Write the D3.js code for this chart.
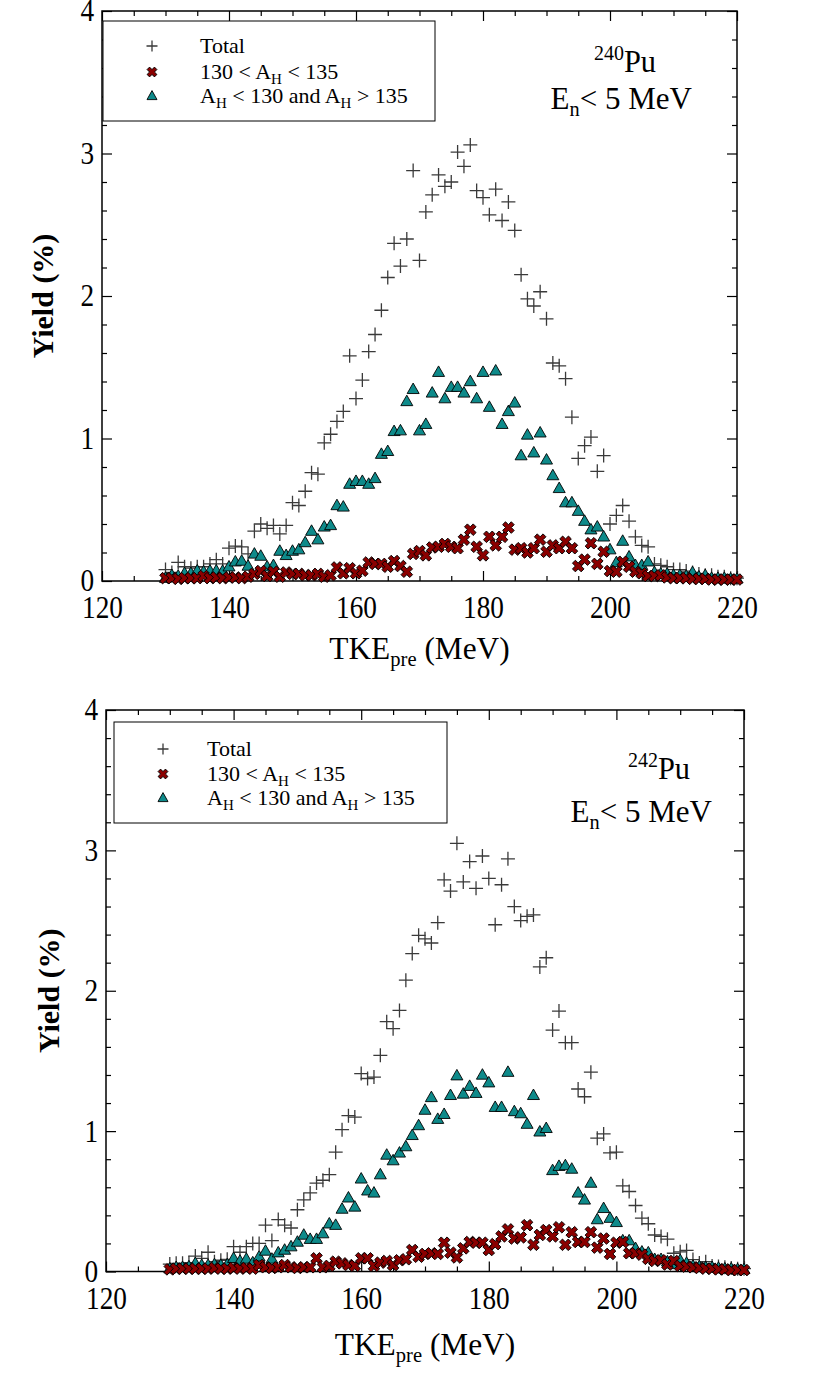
<!DOCTYPE html>
<html><head><meta charset="utf-8">
<script src="https://cdn.jsdelivr.net/npm/d3@7"></script>
<style>
body{margin:0;background:#fff}
text{font-family:"Liberation Serif","Times New Roman",serif;fill:#000}
</style>
</head><body>
<svg id="c" width="830" height="1397"></svg>
<script>
// ---------- DATA ----------
const energies = [130,131,132,133,134,135,136,137,138,139,140,141,142,143,144,145,146,147,148,149,
150,151,152,153,154,155,156,157,158,159,160,161,162,163,164,165,166,167,168,169,
170,171,172,173,174,175,176,177,178,179,180,181,182,183,184,185,186,187,188,189,
190,191,192,193,194,195,196,197,198,199,200,201,202,203,204,205,206,207,208,209,
210,211,212,213,214,215,216,217,218,219,220];

const pu240Total = [0.08,0.06,0.13,0.10,0.09,0.10,0.10,0.12,0.15,0.12,0.23,0.245,0.24,0.19,0.35,0.40,0.37,0.39,0.33,0.39,
0.55,0.53,0.63,0.76,0.75,0.97,1.03,1.12,1.19,1.58,1.28,1.41,1.61,1.73,1.90,2.13,2.37,2.21,2.40,2.88,
2.25,2.59,2.71,2.85,2.77,2.80,3.01,2.91,3.06,2.74,2.69,2.57,2.75,2.53,2.66,2.46,2.15,1.98,1.93,2.03,
1.84,1.53,1.51,1.42,1.15,0.86,0.95,1.01,0.77,0.88,0.40,0.46,0.53,0.42,0.31,0.25,0.24,0.12,0.11,0.10,
0.08,0.08,0.07,0.06,0.05,0.04,0.04,0.03,0.03,0.02,0.02];

const pu240Sym = [0.02,0.02,0.015,0.02,0.02,0.02,0.035,0.02,0.025,0.02,0.025,0.025,0.02,0.03,0.05,0.07,0.035,0.065,0.03,0.06,
0.05,0.05,0.04,0.04,0.05,0.03,0.04,0.095,0.054,0.09,0.054,0.072,0.13,0.12,0.12,0.10,0.14,0.105,0.065,0.19,
0.21,0.18,0.235,0.24,0.26,0.24,0.23,0.29,0.36,0.24,0.18,0.31,0.25,0.31,0.375,0.22,0.23,0.20,0.23,0.29,
0.205,0.25,0.23,0.275,0.23,0.105,0.15,0.265,0.12,0.205,0.07,0.065,0.135,0.10,0.065,0.054,0.035,0.035,0.04,0.025,
0.02,0.02,0.02,0.015,0.015,0.015,0.01,0.01,0.01,0.01,0.01];

const pu240Asym = [0.02,0.04,0.035,0.054,0.054,0.072,0.065,0.072,0.072,0.07,0.10,0.135,0.14,0.105,0.19,0.175,0.10,0.11,0.21,0.18,
0.21,0.22,0.27,0.35,0.29,0.38,0.39,0.53,0.52,0.68,0.70,0.70,0.68,0.72,0.89,0.91,1.05,1.055,1.26,1.345,
1.055,1.10,1.32,1.465,1.28,1.36,1.36,1.32,1.40,1.28,1.465,1.22,1.475,1.10,1.19,1.25,0.88,1.025,0.90,1.04,
0.85,0.74,0.65,0.55,0.55,0.49,0.42,0.36,0.38,0.31,0.22,0.13,0.28,0.17,0.11,0.11,0.135,0.06,0.05,0.05,
0.04,0.04,0.035,0.06,0.03,0.04,0.02,0.02,0.02,0.015,0.015];

const pu242Total = [0.053,0.058,0.058,0.063,0.11,0.094,0.137,0.07,0.08,0.087,0.177,0.137,0.177,0.20,0.20,0.33,0.22,0.37,0.33,0.31,
0.44,0.51,0.56,0.63,0.65,0.69,0.85,1.01,1.11,1.10,1.41,1.375,1.385,1.54,1.78,1.73,1.86,2.075,2.265,2.395,
2.37,2.34,2.485,2.79,2.71,3.05,2.775,2.92,2.73,2.96,2.80,2.47,2.755,2.94,2.60,2.50,2.53,2.54,2.17,2.235,
1.72,1.855,1.63,1.63,1.30,1.245,1.42,0.95,0.98,0.845,0.85,0.61,0.57,0.47,0.38,0.34,0.26,0.25,0.23,0.13,
0.14,0.15,0.085,0.06,0.07,0.04,0.035,0.03,0.025,0.02,0.02];

const pu242Sym = [0.015,0.02,0.02,0.02,0.02,0.02,0.02,0.025,0.02,0.02,0.025,0.02,0.025,0.02,0.046,0.03,0.025,0.03,0.046,0.03,
0.025,0.03,0.03,0.094,0.03,0.04,0.07,0.058,0.046,0.04,0.094,0.094,0.04,0.063,0.075,0.046,0.08,0.087,0.153,0.105,
0.125,0.13,0.125,0.205,0.134,0.10,0.165,0.21,0.205,0.205,0.153,0.195,0.25,0.30,0.235,0.243,0.33,0.19,0.26,0.295,
0.25,0.315,0.19,0.28,0.21,0.21,0.28,0.17,0.235,0.125,0.205,0.21,0.13,0.13,0.12,0.09,0.075,0.08,0.05,0.075,
0.04,0.035,0.03,0.025,0.02,0.02,0.015,0.015,0.01,0.01,0.01];

const pu242Asym = [0.02,0.03,0.03,0.035,0.058,0.045,0.045,0.05,0.045,0.05,0.094,0.075,0.089,0.063,0.105,0.146,0.089,0.134,0.153,0.177,
0.21,0.26,0.23,0.23,0.27,0.34,0.33,0.445,0.525,0.46,0.66,0.575,0.56,0.69,0.83,0.79,0.845,0.89,0.97,1.04,
1.15,1.24,1.085,1.12,1.255,1.395,1.265,1.32,1.27,1.40,1.345,1.17,1.17,1.42,1.14,1.125,1.05,1.255,0.995,1.02,
0.72,0.75,0.755,0.73,0.56,0.51,0.63,0.37,0.45,0.38,0.35,0.22,0.22,0.165,0.14,0.134,0.087,0.087,0.07,0.05,
0.08,0.06,0.04,0.035,0.03,0.03,0.025,0.02,0.02,0.015,0.015];

const xMajorTicks = [120,140,160,180,200,220];
const xMinorTicks = [125,130,135,145,150,155,165,170,175,185,190,195,205,210,215];
const yMajorTicks = [0,1,2,3,4];
const yMinorTicks = [0.2,0.4,0.6,0.8,1.2,1.4,1.6,1.8,2.2,2.4,2.6,2.8,3.2,3.4,3.6,3.8];
const legendLabels = ["Total", "130 < A|H| < 135", "A|H| < 130 and A|H| > 135"];

// ---------- DRAW ----------
const svg = d3.select("#c");
const TEAL = "#0e8a8a", RED = "#8b0000", PLUSC = "#3a3a3a";

function plusPath(s){ return `M${-s},0H${s}M0,${-s}V${s}`; }
const xSymBig = d3.symbol().type(d3.symbolCross).size(84);
const xSymSmall = d3.symbol().type(d3.symbolCross).size(60);
function triPath(w,h){ return `M0,${-h*0.6}L${w/2},${h*0.4}L${-w/2},${h*0.4}Z`; }

function drawMarker(g, type, cx, cy, small){
  if(type==="plus"){
    g.append("path").attr("d", plusPath(small?5.5:7)).attr("transform",`translate(${cx},${cy})`)
      .attr("fill","none").attr("stroke",PLUSC).attr("stroke-width",1.3);
  } else if(type==="x"){
    g.append("path").attr("d", (small?xSymSmall:xSymBig)()).attr("transform",`translate(${cx},${cy}) rotate(45)`)
      .attr("fill",RED).attr("stroke","#000").attr("stroke-width",0.9);
  } else {
    g.append("path").attr("d", small?triPath(10,9):triPath(12,10.5)).attr("transform",`translate(${cx},${cy})`)
      .attr("fill",TEAL).attr("stroke","#000").attr("stroke-width",0.9);
  }
}

function richText(sel, str, subSize, dyShift){
  const parts = str.split("|");
  parts.forEach((p,i)=>{
    if(!p) return;
    if(i%2===1){
      sel.append("tspan").attr("font-size",subSize).attr("dy",dyShift).text(p);
    } else {
      sel.append("tspan").attr("dy", i>0 ? -dyShift : 0).text(p);
    }
  });
}

function label(g, x, y, size, sx, anchor){
  return g.append("g").attr("transform",`translate(${x},${y}) scale(${sx},1)`)
    .append("text").attr("text-anchor",anchor).attr("font-size",size);
}

function panel(cfg){
  const {x0,x1,y0,y1} = cfg;
  const x = d3.scaleLinear().domain([120,220]).range([x0,x1]);
  const y = d3.scaleLinear().domain([0,4]).range([y1,y0]);
  const g = svg.append("g");

  const mk = (axis, vals, size, tr, noLabels) => {
    const a = axis.tickValues(vals).tickSize(size).tickSizeOuter(0);
    if(noLabels) a.tickFormat("");
    const ag = g.append("g").attr("transform",tr).call(a);
    ag.select(".domain").remove();
    ag.selectAll("line").attr("stroke","#000").attr("stroke-width",1.2);
    return ag;
  };
  const bx = mk(d3.axisBottom(x).tickPadding(15).tickFormat(d3.format("d")), xMajorTicks, -10, `translate(0,${y1})`);
  bx.selectAll("text").attr("font-size",31).attr("transform","scale(0.88,1)");
  mk(d3.axisBottom(x), xMinorTicks, -5, `translate(0,${y1})`, true);
  mk(d3.axisTop(x), xMajorTicks, -10, `translate(0,${y0})`, true);
  mk(d3.axisTop(x), xMinorTicks, -5, `translate(0,${y0})`, true);
  const ly = mk(d3.axisLeft(y).tickPadding(9).tickFormat(d3.format("d")), yMajorTicks, -10, `translate(${x0},0)`);
  ly.selectAll("text").attr("font-size",31).attr("transform","scale(0.88,1)");
  mk(d3.axisLeft(y), yMinorTicks, -5, `translate(${x0},0)`, true);
  mk(d3.axisRight(y), yMajorTicks, -10, `translate(${x1},0)`, true);
  mk(d3.axisRight(y), yMinorTicks, -5, `translate(${x1},0)`, true);

  g.append("rect").attr("x",x0).attr("y",y0).attr("width",x1-x0).attr("height",y1-y0)
    .attr("fill","none").attr("stroke","#000").attr("stroke-width",1.5);

  const dg = g.append("g");
  energies.forEach((e,i)=> drawMarker(dg,"plus",x(e),y(cfg.total[i])));
  energies.forEach((e,i)=> drawMarker(dg,"tri",x(e),y(cfg.asym[i])));
  energies.forEach((e,i)=> drawMarker(dg,"x",x(e),y(cfg.sym[i])));

  const L = cfg.legend;
  g.append("rect").attr("x",L.x).attr("y",L.y).attr("width",L.w).attr("height",L.h)
    .attr("fill","#fff").attr("stroke","#000").attr("stroke-width",1);
  const types = ["plus","x","tri"];
  legendLabels.forEach((lab,i)=>{
    const cy = L.rows[i];
    drawMarker(g, types[i], L.sx, cy, true);
    const t = label(g, L.tx, cy+7, 22, 1.0, "start");
    richText(t, lab, 15, 5);
  });

  const iso = label(g, cfg.isoX, cfg.isoY, 32, 0.95, "end");
  iso.append("tspan").attr("font-size",21).attr("dy",-12).text(cfg.isoMass);
  iso.append("tspan").attr("dy",12).text("Pu");
  const en = label(g, cfg.enX, cfg.enY, 32, 0.97, "end");
  richText(en, "E|n|< 5 MeV", 21, 7);

  const xt = label(g, (x0+x1)/2, cfg.xtY, 32, 0.98, "middle");
  richText(xt, "TKE|pre| (MeV)", 21, 7);
  g.append("text").attr("transform",`translate(${cfg.ytX},${(y0+y1)/2}) rotate(-90)`)
    .attr("text-anchor","middle").attr("font-size",30).attr("font-weight","bold").text("Yield (%)");
}

panel({x0:102,x1:737,y0:11,y1:581,total:pu240Total,sym:pu240Sym,asym:pu240Asym,
  legend:{x:103,y:21,w:332,h:100,sx:152,tx:200,rows:[46,72,96]},
  isoMass:"240", isoX:656, isoY:72, enX:692, enY:109, xtY:659, ytX:53});

panel({x0:106,x1:744,y0:710,y1:1271.5,total:pu242Total,sym:pu242Sym,asym:pu242Asym,
  legend:{x:114,y:722,w:333,h:101,sx:163,tx:207,rows:[749,774,798]},
  isoMass:"242", isoX:690, isoY:779, enX:712, enY:822, xtY:1355, ytX:59});
</script>
</body></html>
